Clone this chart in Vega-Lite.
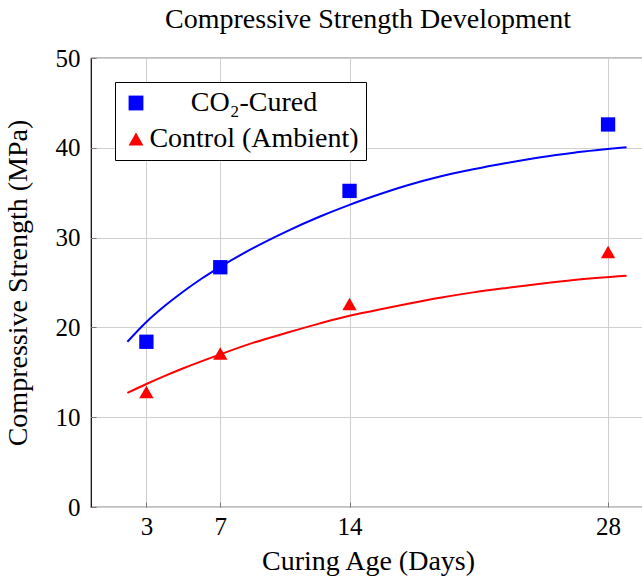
{
  "$schema": "https://vega.github.io/schema/vega-lite/v6.json",
  "autosize": {"type": "none"},
  "padding": {"left": 91, "top": 58, "right": 0, "bottom": 71},
  "width": 554,
  "height": 449,
  "background": "white",
  "title": {
    "text": "Compressive Strength Development",
    "font": "Liberation Serif",
    "fontSize": 28,
    "fontWeight": "normal",
    "color": "#000",
    "anchor": "middle",
    "offset": 12
  },
  "datasets": {
    "measured": [
      {"day": 3, "strength": 18.4, "series": "CO₂-Cured"},
      {"day": 7, "strength": 26.7, "series": "CO₂-Cured"},
      {"day": 14, "strength": 35.2, "series": "CO₂-Cured"},
      {"day": 28, "strength": 42.6, "series": "CO₂-Cured"},
      {"day": 3, "strength": 12.8, "series": "Control (Ambient)"},
      {"day": 7, "strength": 17.1, "series": "Control (Ambient)"},
      {"day": 14, "strength": 22.6, "series": "Control (Ambient)"},
      {"day": 28, "strength": 28.4, "series": "Control (Ambient)"}
    ],
    "fit": [
      {"day": 1.97, "strength": 18.4, "series": "CO₂-Cured"},
      {"day": 3, "strength": 20.6, "series": "CO₂-Cured"},
      {"day": 4, "strength": 22.4, "series": "CO₂-Cured"},
      {"day": 5, "strength": 24.0, "series": "CO₂-Cured"},
      {"day": 6, "strength": 25.45, "series": "CO₂-Cured"},
      {"day": 7, "strength": 26.75, "series": "CO₂-Cured"},
      {"day": 8.8, "strength": 28.85, "series": "CO₂-Cured"},
      {"day": 10.6, "strength": 30.7, "series": "CO₂-Cured"},
      {"day": 12.4, "strength": 32.35, "series": "CO₂-Cured"},
      {"day": 14, "strength": 33.65, "series": "CO₂-Cured"},
      {"day": 15.3, "strength": 34.6, "series": "CO₂-Cured"},
      {"day": 17.1, "strength": 35.8, "series": "CO₂-Cured"},
      {"day": 18.9, "strength": 36.8, "series": "CO₂-Cured"},
      {"day": 20.7, "strength": 37.6, "series": "CO₂-Cured"},
      {"day": 22.5, "strength": 38.3, "series": "CO₂-Cured"},
      {"day": 24.35, "strength": 38.95, "series": "CO₂-Cured"},
      {"day": 26.15, "strength": 39.45, "series": "CO₂-Cured"},
      {"day": 29, "strength": 40.05, "series": "CO₂-Cured"},
      {"day": 1.97, "strength": 12.7, "series": "Control (Ambient)"},
      {"day": 3, "strength": 13.7, "series": "Control (Ambient)"},
      {"day": 4, "strength": 14.6, "series": "Control (Ambient)"},
      {"day": 5, "strength": 15.45, "series": "Control (Ambient)"},
      {"day": 7, "strength": 17.0, "series": "Control (Ambient)"},
      {"day": 8.8, "strength": 18.3, "series": "Control (Ambient)"},
      {"day": 10.6, "strength": 19.4, "series": "Control (Ambient)"},
      {"day": 12.4, "strength": 20.45, "series": "Control (Ambient)"},
      {"day": 14, "strength": 21.3, "series": "Control (Ambient)"},
      {"day": 15.3, "strength": 21.85, "series": "Control (Ambient)"},
      {"day": 17.1, "strength": 22.6, "series": "Control (Ambient)"},
      {"day": 18.9, "strength": 23.3, "series": "Control (Ambient)"},
      {"day": 20.7, "strength": 23.9, "series": "Control (Ambient)"},
      {"day": 22.5, "strength": 24.4, "series": "Control (Ambient)"},
      {"day": 24.35, "strength": 24.87, "series": "Control (Ambient)"},
      {"day": 26.15, "strength": 25.28, "series": "Control (Ambient)"},
      {"day": 29, "strength": 25.75, "series": "Control (Ambient)"}
    ]
  },
  "encoding": {
    "x": {
      "field": "day",
      "type": "quantitative",
      "scale": {"domain": [0, 30], "nice": false, "zero": false},
      "axis": {
        "values": [3, 7, 14, 28],
        "title": "Curing Age (Days)",
        "format": "d"
      }
    },
    "y": {
      "field": "strength",
      "type": "quantitative",
      "scale": {"domain": [0, 50], "nice": false},
      "axis": {
        "values": [0, 10, 20, 30, 40, 50],
        "title": "Compressive Strength (MPa)"
      }
    },
    "color": {
      "field": "series",
      "type": "nominal",
      "scale": {"domain": ["CO₂-Cured", "Control (Ambient)"], "range": ["#0000ff", "#ff0000"]},
      "legend": {
        "title": null,
        "orient": "top-left",
        "offset": 24,
        "strokeColor": "#000",
        "fillColor": "#fff",
        "padding": 7,
        "labelAlign": "center",
        "labelOffset": 104,
        "labelLimit": 400,
        "labelFontSize": 28,
        "symbolSize": 220,
        "rowPadding": 8
      }
    }
  },
  "layer": [
    {
      "data": {"name": "fit"},
      "mark": {"type": "line", "interpolate": "monotone", "strokeWidth": 2}
    },
    {
      "data": {"name": "measured"},
      "mark": {"type": "point", "filled": true, "opacity": 1, "size": 205, "strokeWidth": 0},
      "encoding": {
        "shape": {
          "field": "series",
          "type": "nominal",
          "scale": {"domain": ["CO₂-Cured", "Control (Ambient)"], "range": ["square", "triangle-up"]},
          "legend": {
            "title": null,
            "orient": "top-left",
            "offset": 24,
            "strokeColor": "#000",
            "fillColor": "#fff",
            "padding": 7,
            "labelAlign": "center",
            "labelOffset": 104,
            "labelLimit": 400,
            "labelFontSize": 28,
            "symbolSize": 220,
            "rowPadding": 8
          }
        }
      }
    }
  ],
  "config": {
    "font": "Liberation Serif",
    "view": {"stroke": "#000", "strokeWidth": 1.2},
    "axis": {
      "domain": false,
      "ticks": true,
      "tickSize": -5,
      "tickColor": "#777",
      "tickWidth": 1,
      "grid": true,
      "gridColor": "#cfcfcf",
      "gridWidth": 1,
      "labelFont": "Liberation Serif",
      "labelFontSize": 25,
      "labelColor": "#000",
      "titleFont": "Liberation Serif",
      "titleFontSize": 28,
      "titleFontWeight": "normal",
      "titleColor": "#000"
    },
    "axisX": {"labelPadding": 12, "titlePadding": 8},
    "axisY": {"labelPadding": 16, "titlePadding": 23},
    "legend": {
      "strokeWidth": 1,
      "cornerRadius": 0,
      "labelFont": "Liberation Serif",
      "labelColor": "#000",
      "symbolStrokeWidth": 0
    }
  }
}
